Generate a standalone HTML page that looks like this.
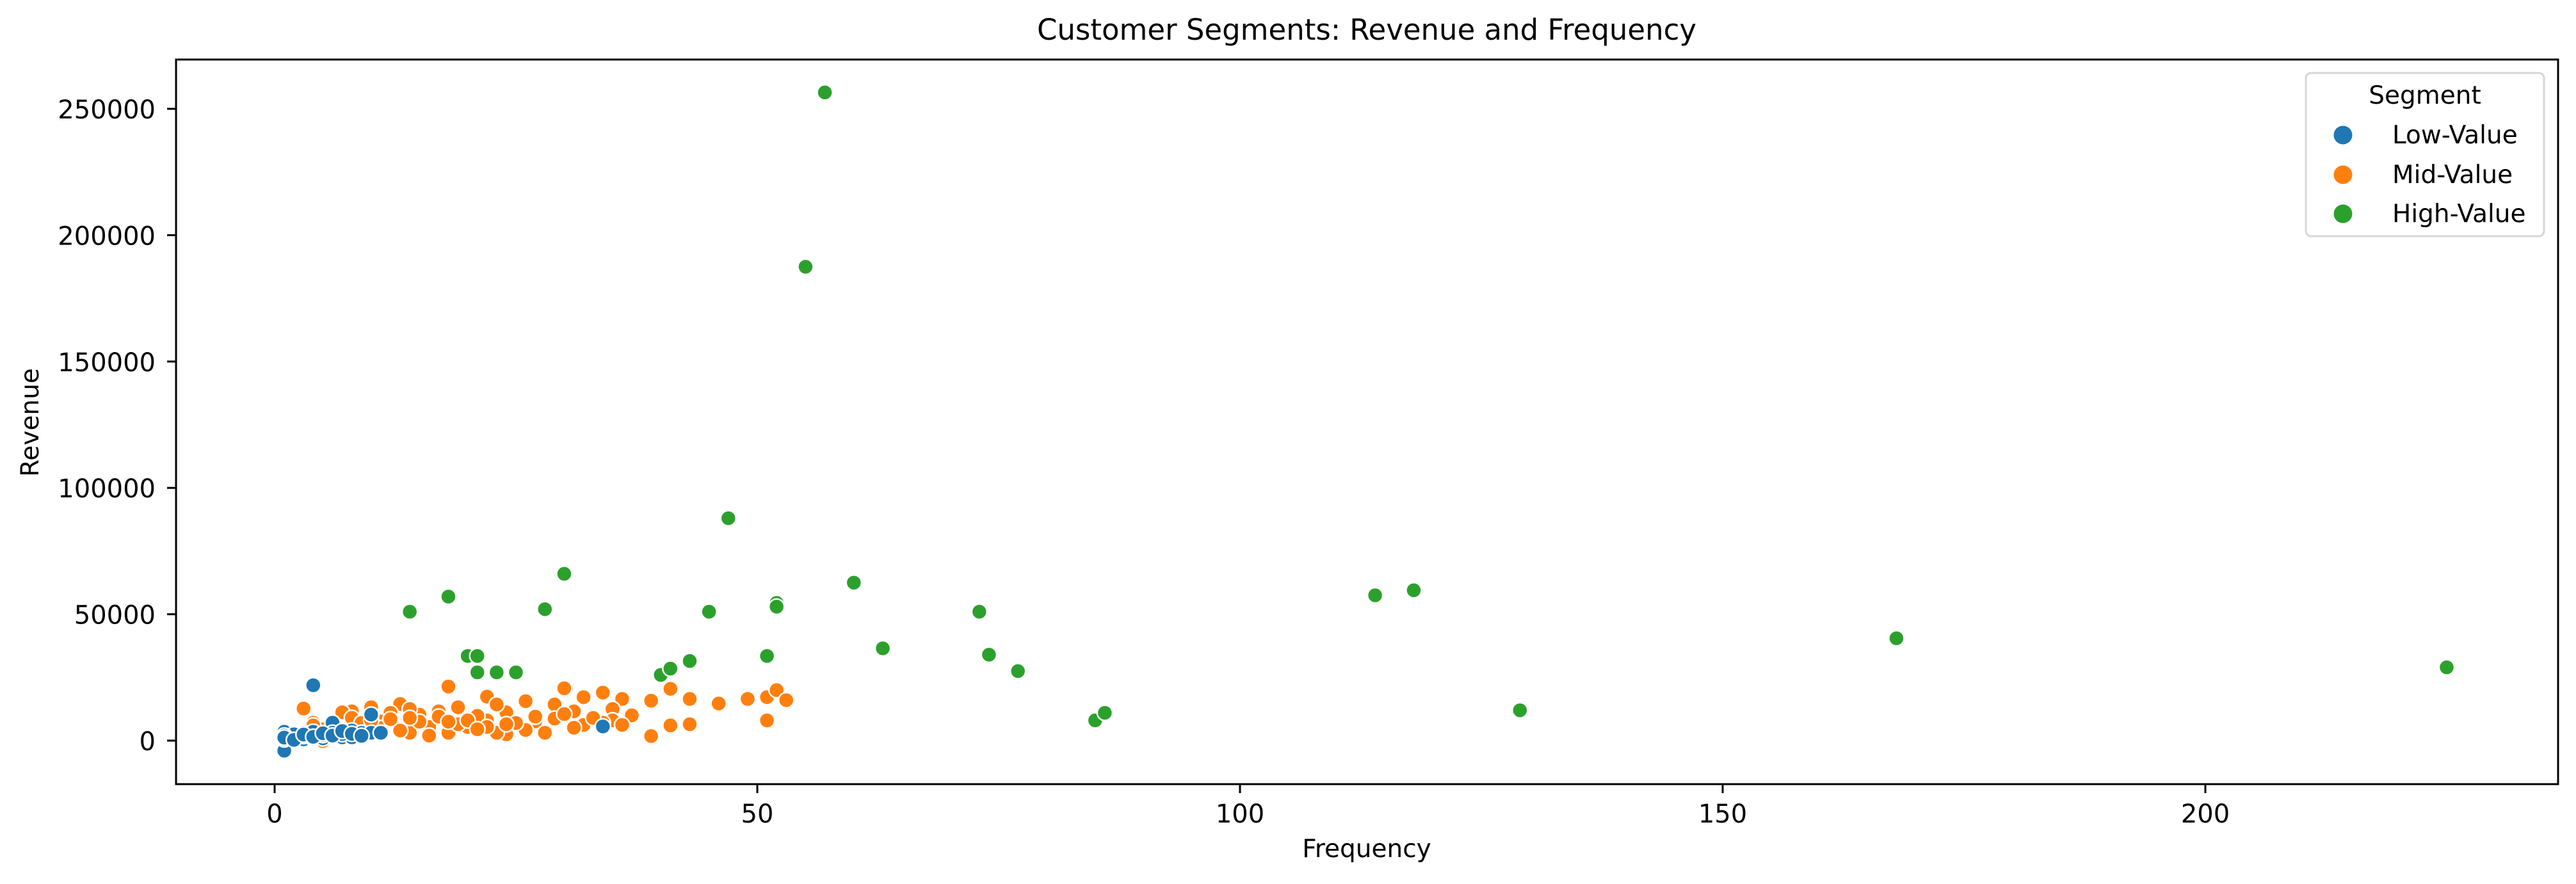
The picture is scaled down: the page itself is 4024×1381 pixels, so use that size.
<!DOCTYPE html>
<html><head><meta charset="utf-8"><style>
html,body{margin:0;padding:0;background:#fff;}
svg{display:block;font-family:"DejaVu Sans","Liberation Sans",sans-serif;}
</style></head><body>
<svg id="chart" width="4024" height="1381" viewBox="0 0 4024 1381" xmlns="http://www.w3.org/2000/svg">
<rect width="4024" height="1381" fill="#fff"/>
<g id="marks"></g>
<g id="axes"></g>
<text x="2135" y="62" text-anchor="middle" font-size="45">Customer Segments: Revenue and Frequency</text>
<text x="2135" y="1339" text-anchor="middle" font-size="39">Frequency</text>
<text x="60" y="660" text-anchor="middle" font-size="39" transform="rotate(-90 60 660)">Revenue</text>
<g>
<rect x="3602" y="114" width="372" height="255" rx="8" fill="#fff" fill-opacity="0.8" stroke="#d6d6d6" stroke-width="3"/>
<text x="3788" y="162" text-anchor="middle" font-size="39">Segment</text>
<g><circle cx="3660" cy="211" r="14.5" fill="#1f77b4"/><text x="3737" y="224" font-size="39">Low-Value</text></g>
<g><circle cx="3660" cy="273" r="14.5" fill="#ff7f0e"/><text x="3737" y="286" font-size="39">Mid-Value</text></g>
<g><circle cx="3660" cy="334" r="14.5" fill="#2ca02c"/><text x="3737" y="347" font-size="39">High-Value</text></g>
</g>
</svg>
<script>
const xTicks = [0, 50, 100, 150, 200];
const yTicks = [0, 50000, 100000, 150000, 200000, 250000];
const lowFreq = [1,1,1,2,3,3,4,4,4,5,6,6,7,8,8,9,10,10,11,34,2,3,5,7,1,1,2,3,4,5,6,7,8,9];
const lowRev = [-4000,500,3500,1300,3100,500,21900,3500,900,900,7100,3100,1300,4000,1300,3100,10300,3100,3100,5600,2500,1800,2200,2600,2000,1200,300,2400,1500,2900,2000,3800,2700,1900];
const midFreq = [3,13,18,22,26,30,32,34,36,39,39,41,43,43,46,49,51,51,52,53,37,35,35,36,32,31,31,29,29,27,26,24,24,23,23,22,21,20,19,18,17,16,15,14,14,12,11,10,8,7,5,4,6,9,13,16,22,28,34,41,5,6,8,9,11,12,15,17,19,20,21,25,27,30,33,4,10,14,18,24];
const midRev = [12700,14500,21400,17400,15600,20700,17200,19000,16500,15800,1800,20500,16500,6500,14700,16500,17200,8000,20000,16000,10000,12500,8000,6200,6200,11600,5100,14300,8700,7600,4200,11200,2500,3100,14300,8000,9800,5400,13200,3100,11600,5400,10300,3100,12500,11000,7600,13200,11600,11200,-200,7100,5400,3100,4000,2000,5400,3100,7100,6000,4500,6500,9000,7000,5000,8500,7500,9500,6500,8000,4500,7000,9500,10500,9000,6000,8000,9000,7500,6500];
const highFreq = [14,18,20,21,21,23,25,28,30,40,41,43,45,47,51,52,52,55,57,60,63,73,74,77,85,86,114,118,129,168,225];
const highRev = [51000,57000,33500,33500,27000,27000,27000,52000,66000,26000,28500,31500,51000,88000,33500,54500,53000,187500,256500,62500,36500,51000,34000,27500,8000,11000,57500,59500,12000,40500,29000];

const L=275,R=3996,T=93,B=1225;
const xs = f => 429 + f*15.08;
const ys = v => 1157 - v*0.003948;
const NS="http://www.w3.org/2000/svg";
const marks=document.getElementById('marks');
const axes=document.getElementById('axes');
function dots(fx, rv, color, name){
  for(let i=0;i<fx.length;i++){
    const c=document.createElementNS(NS,'circle');
    c.setAttribute('cx',xs(fx[i]));c.setAttribute('cy',ys(rv[i]));
    c.setAttribute('r',12);c.setAttribute('fill',color);
    c.setAttribute('stroke','#fff');c.setAttribute('stroke-width',2.5);
    
    
    marks.appendChild(c);
  }
}
dots(midFreq, midRev, '#ff7f0e', 'mid-value-point');
dots(lowFreq, lowRev, '#1f77b4', 'low-value-point');
dots(highFreq, highRev, '#2ca02c', 'high-value-point');

const frame=document.createElementNS(NS,'rect');
frame.setAttribute('x',L);frame.setAttribute('y',T);frame.setAttribute('width',R-L);frame.setAttribute('height',B-T);
frame.setAttribute('fill','none');frame.setAttribute('stroke','#000');frame.setAttribute('stroke-width',3);


axes.appendChild(frame);
xTicks.forEach(t=>{
  const x=xs(t);
  const l=document.createElementNS(NS,'line');
  l.setAttribute('x1',x);l.setAttribute('x2',x);l.setAttribute('y1',B);l.setAttribute('y2',B+14);
  l.setAttribute('stroke','#000');l.setAttribute('stroke-width',3);
  
  
  axes.appendChild(l);
  const tx=document.createElementNS(NS,'text');
  tx.setAttribute('x',x);tx.setAttribute('y',1285);tx.setAttribute('text-anchor','middle');tx.setAttribute('font-size',40);
  tx.textContent=t;
  
  
  axes.appendChild(tx);
});
yTicks.forEach(t=>{
  const y=ys(t);
  const l=document.createElementNS(NS,'line');
  l.setAttribute('x1',L-14);l.setAttribute('x2',L);l.setAttribute('y1',y);l.setAttribute('y2',y);
  l.setAttribute('stroke','#000');l.setAttribute('stroke-width',3);
  
  
  axes.appendChild(l);
  const tx=document.createElementNS(NS,'text');
  tx.setAttribute('x',243);tx.setAttribute('y',y+15);tx.setAttribute('text-anchor','end');tx.setAttribute('font-size',40);
  tx.textContent=t;
  
  
  axes.appendChild(tx);
});
</script>
</body></html>
